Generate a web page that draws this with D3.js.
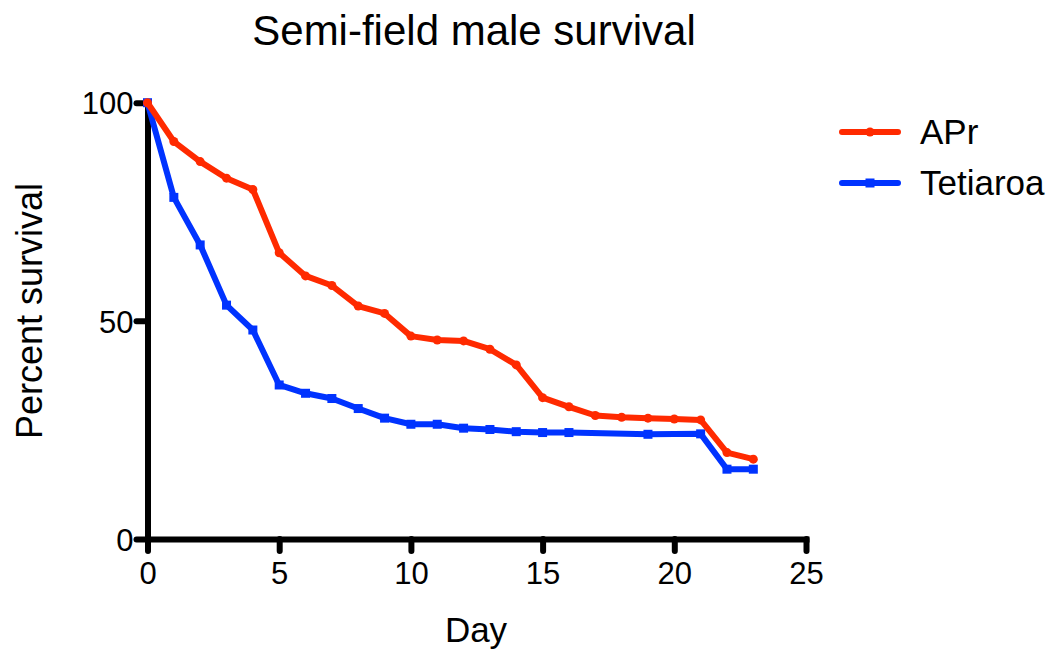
<!DOCTYPE html>
<html>
<head>
<meta charset="utf-8">
<script src="https://cdn.jsdelivr.net/npm/d3@7"></script>
<style>
  body { margin: 0; background: #fff; }
  text { font-family: "Liberation Sans", Arial, sans-serif; fill: #000; }
</style>
</head>
<body>
<div id="content"></div>
<script>
// survival data
const aprDays = [0,1,2,3,4,5,6,7,8,9,10,11,12,13,14,15,16,17,18,19,20,21,22,23];
const aprValues = [100,91.1,86.5,82.7,80.1,65.6,60.3,58.1,53.4,51.7,46.5,45.6,45.4,43.5,39.9,32.4,30.3,28.3,27.9,27.7,27.5,27.3,19.8,18.3];
const tetDays = [0,1,2,3,4,5,6,7,8,9,10,11,12,13,14,15,16,19,21,22,23];
const tetValues = [100,78.3,67.4,53.6,47.9,35.3,33.4,32.2,29.9,27.7,26.3,26.3,25.4,25.1,24.6,24.4,24.4,24.0,24.1,16.0,16.0];
const xTicks = [0,5,10,15,20,25];
const yTicks = [0,50,100];
const seriesNames = ["APr","Tetiaroa"];
const seriesColors = ["#ff2a00","#0033ff"];

const W = 1056, H = 650;
const svg = d3.select("#content").append("svg")
    .attr("width", W).attr("height", H);

const x = d3.scaleLinear().domain([0,25]).range([147.5,806]);
const y = d3.scaleLinear().domain([0,100]).range([539,102.7]);

// title
svg.append("text")
   .attr("x", 474).attr("y", 45)
   .attr("text-anchor","middle")
   .style("font-size","42px")
   .text("Semi-field male survival");

// axes
const xAxis = svg.append("g")
    .attr("transform",`translate(0,${y(0)})`)
    .call(d3.axisBottom(x).tickValues(xTicks).tickSize(12).tickSizeOuter(0).tickPadding(11));
const yAxis = svg.append("g")
    .attr("transform",`translate(${x(0)},0)`)
    .call(d3.axisLeft(y).tickValues(yTicks).tickSize(11).tickSizeOuter(0).tickPadding(3));

[xAxis,yAxis].forEach(a=>{
    a.selectAll("path.domain").attr("stroke","#000").attr("stroke-width",6).attr("stroke-linecap","square");
    a.selectAll(".tick line").attr("stroke","#000").attr("stroke-width",6).attr("stroke-linecap","round");
    a.selectAll(".tick text").style("font-size","31px").style("font-family","Liberation Sans, Arial, sans-serif").attr("fill","#000");
});
yAxis.selectAll(".tick text").attr("dy","0.36em");

// axis titles
svg.append("text")
   .attr("x", 476).attr("y", 642)
   .attr("text-anchor","middle")
   .style("font-size","35px")
   .text("Day");
svg.append("text")
   .attr("transform","translate(42,311) rotate(-90)")
   .attr("text-anchor","middle")
   .style("font-size","36px")
   .text("Percent survival");

const line = d3.line().x(d=>x(d[0])).y(d=>y(d[1]));

const apr = aprDays.map((d,i)=>[d,aprValues[i]]);
const tet = tetDays.map((d,i)=>[d,tetValues[i]]);

// Tetiaroa first so APr sits on top
svg.append("path").datum(tet)
   .attr("d",line).attr("fill","none")
   .attr("stroke",seriesColors[1]).attr("stroke-width",6)
   .attr("stroke-linejoin","round");
svg.selectAll("rect.tet").data(tet).enter().append("rect")
   .attr("class","tet")
   .attr("x",d=>x(d[0])-4.5).attr("y",d=>y(d[1])-4.5)
   .attr("width",9).attr("height",9)
   .attr("fill",seriesColors[1]);

svg.append("path").datum(apr)
   .attr("d",line).attr("fill","none")
   .attr("stroke",seriesColors[0]).attr("stroke-width",6)
   .attr("stroke-linejoin","round").attr("stroke-linecap","round");
svg.selectAll("circle.apr").data(apr).enter().append("circle")
   .attr("class","apr")
   .attr("cx",d=>x(d[0])).attr("cy",d=>y(d[1]))
   .attr("r",4.5)
   .attr("fill",seriesColors[0]);

// legend
const legend = svg.selectAll("g.leg").data(seriesNames).enter().append("g")
   .attr("class","leg")
   .attr("transform",(d,i)=>`translate(842,${132+i*51})`);
legend.append("line")
   .attr("x1",0).attr("x2",56)
   .attr("stroke",(d,i)=>seriesColors[i]).attr("stroke-width",6)
   .attr("stroke-linecap","round");
legend.filter((d,i)=>i==0).append("circle")
   .attr("cx",28).attr("r",4.5).attr("fill",seriesColors[0]);
legend.filter((d,i)=>i==1).append("rect")
   .attr("x",23.5).attr("y",-4.5).attr("width",9).attr("height",9).attr("fill",seriesColors[1]);
legend.append("text")
   .attr("x",78).attr("y",12)
   .style("font-size","35px")
   .text(d=>d);
</script>
</body>
</html>
